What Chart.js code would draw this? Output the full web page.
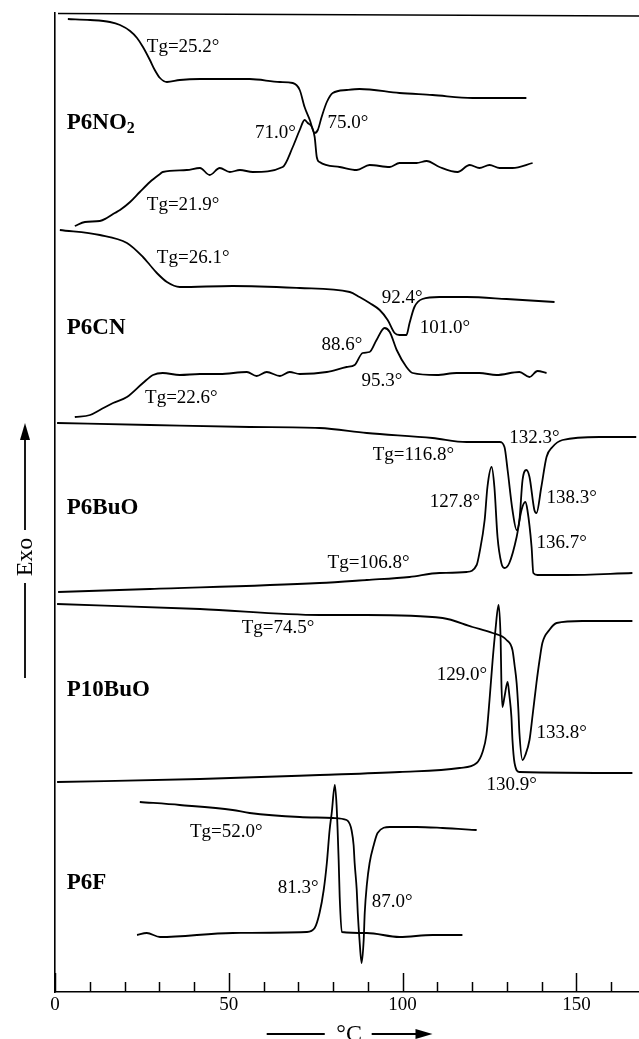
<!DOCTYPE html>
<html>
<head>
<meta charset="utf-8">
<script src="https://cdn.jsdelivr.net/npm/chart.js@4.4.0/dist/chart.umd.min.js"></script>
<style>
html,body{margin:0;padding:0;background:#fff;}
#wrap{width:639px;height:1039px;position:relative;}
</style>
</head>
<body>
<div id="wrap"><canvas id="c" width="639" height="1039"></canvas></div>
<script>
// ---- axis ticks ----
const xTickValues = [0, 50, 100, 150];
const xMinorTickValues = [0, 10, 20, 30, 40, 50, 60, 70, 80, 90, 100, 110, 120, 130, 140, 150, 160];

// ---- curves: temperature (°C) and stacked DSC signal (arb. units, Exo up) ----
const p6no2HeatT = [3.7, 10.1, 15.8, 18.7, 21.6, 23.6, 25.3, 27.3, 28.7, 30.2, 32.2, 35.9, 41.7, 56.0, 64.7, 68.4, 70.4, 71.8, 73.3, 74.7, 75.6, 76.7, 78.2, 79.9, 83.9, 87.6, 99.1, 108.6, 120.1, 135.6];
const p6no2HeatQ = [97.3, 97.2, 97.0, 96.7, 96.1, 95.4, 94.5, 93.2, 92.2, 91.4, 91.0, 91.2, 91.3, 91.3, 91.0, 90.9, 90.2, 88.5, 87.2, 85.9, 86.2, 87.5, 89.0, 89.9, 90.2, 90.3, 89.9, 89.7, 89.4, 89.4];
const p6no2CoolT = [5.7, 8.6, 12.9, 14.9, 17.2, 18.7, 21.6, 24.4, 27.3, 30.2, 31.0, 37.9, 41.7, 44.5, 47.4, 50.3, 53.2, 56.9, 65.5, 68.4, 70.4, 71.8, 72.7, 73.9, 74.7, 75.3, 76.1, 81.9, 86.8, 90.5, 96.3, 99.1, 104.0, 106.9, 110.6, 115.8, 119.3, 122.1, 125.0, 127.9, 131.6, 137.4];
const p6no2CoolQ = [76.6, 77.0, 77.1, 77.4, 77.9, 78.2, 79.0, 80.0, 81.0, 81.8, 82.0, 82.2, 82.4, 81.7, 82.4, 82.0, 82.2, 82.0, 82.5, 84.5, 86.2, 87.2, 86.9, 86.5, 85.5, 83.5, 83.0, 82.5, 82.2, 82.7, 82.5, 82.9, 82.9, 83.1, 82.5, 82.0, 82.7, 82.4, 82.7, 82.4, 82.4, 82.9];

const p6cnHeatT = [1.4, 12.9, 20.7, 25.3, 27.3, 29.3, 32.2, 35.9, 51.1, 70.4, 84.8, 87.6, 90.5, 93.4, 95.7, 97.7, 99.1, 101.1, 102.0, 103.4, 105.7, 110.6, 118.4, 129.9, 143.7];
const p6cnHeatQ = [76.2, 75.7, 74.9, 73.5, 72.7, 71.9, 71.0, 70.5, 70.6, 70.4, 70.0, 69.5, 68.9, 68.2, 67.2, 65.9, 65.7, 65.7, 66.9, 68.5, 69.3, 69.5, 69.5, 69.3, 69.0];
const p6cnCoolT = [5.7, 10.1, 12.9, 16.7, 20.7, 25.3, 28.2, 31.0, 35.9, 41.7, 47.4, 55.2, 58.0, 60.9, 64.7, 67.5, 70.4, 78.2, 83.9, 86.2, 88.5, 90.5, 92.5, 94.8, 96.3, 98.3, 101.1, 102.9, 109.8, 115.5, 122.1, 127.0, 133.6, 136.5, 138.8, 141.4];
const p6cnCoolQ = [57.5, 57.7, 58.2, 58.9, 59.5, 60.9, 61.7, 61.9, 61.7, 61.8, 61.8, 62.0, 61.6, 62.0, 61.6, 62.0, 61.8, 62.0, 62.5, 62.7, 63.9, 64.0, 65.2, 66.4, 66.0, 64.2, 62.5, 61.9, 61.7, 61.9, 61.9, 61.7, 62.0, 61.5, 62.1, 61.9];

const p6buoHeatT = [0.6, 27.3, 56.0, 76.1, 89.7, 108.6, 118.4, 127.9, 129.3, 130.2, 131.6, 132.8, 133.6, 134.5, 135.6, 136.5, 137.9, 138.5, 139.9, 141.4, 143.1, 146.0, 156.6, 167.2];
const p6buoHeatQ = [56.9, 56.7, 56.5, 56.4, 55.9, 55.4, 55.0, 55.0, 54.5, 52.2, 48.2, 46.2, 47.2, 51.2, 52.2, 51.5, 48.2, 47.9, 50.5, 53.5, 54.5, 55.2, 55.5, 55.5];
const p6buoCoolT = [0.9, 27.3, 76.1, 89.7, 102.0, 110.6, 118.4, 121.3, 122.1, 123.6, 124.4, 125.6, 126.4, 127.3, 128.4, 129.3, 130.7, 132.8, 134.2, 135.3, 135.9, 137.1, 137.6, 138.8, 147.1, 166.1];
const p6buoCoolQ = [40.0, 40.3, 40.9, 41.2, 41.5, 41.9, 42.0, 42.7, 43.9, 47.2, 50.5, 52.5, 50.5, 45.5, 42.9, 42.4, 42.9, 45.5, 48.2, 49.0, 48.2, 44.5, 41.9, 41.7, 41.7, 41.9];

const p10buoHeatT = [0.6, 41.7, 76.1, 89.7, 111.5, 120.1, 125.9, 129.9, 131.6, 132.2, 132.8, 133.3, 133.6, 134.5, 135.3, 136.5, 137.4, 138.5, 139.4, 140.2, 142.2, 144.3, 151.7, 166.1];
const p10buoHeatQ = [38.8, 38.3, 37.7, 37.7, 37.4, 36.5, 35.9, 35.2, 34.2, 32.7, 30.9, 28.2, 25.9, 23.2, 23.7, 25.2, 27.7, 30.9, 33.2, 34.9, 36.2, 36.9, 37.1, 37.1];
const p10buoCoolT = [0.6, 41.7, 76.1, 99.1, 116.4, 121.3, 123.0, 124.1, 125.0, 125.9, 126.7, 127.6, 128.2, 128.4, 128.7, 129.3, 130.2, 130.7, 131.3, 131.6, 132.2, 133.6, 166.1];
const p10buoCoolQ = [21.0, 21.3, 21.7, 22.0, 22.4, 22.9, 24.0, 25.7, 29.2, 33.2, 36.2, 38.7, 35.2, 31.2, 28.5, 29.5, 31.0, 29.7, 27.5, 25.2, 22.9, 22.0, 21.9];

const p6fHeatT = [24.4, 35.9, 51.1, 56.0, 70.4, 79.9, 83.9, 84.8, 85.3, 85.9, 86.2, 86.8, 87.1, 87.6, 88.2, 88.8, 89.1, 89.7, 90.5, 91.7, 92.8, 96.3, 104.0, 111.5, 121.3];
const p6fHeatQ = [19.0, 18.7, 18.2, 17.9, 17.5, 17.4, 17.2, 16.8, 16.2, 14.7, 12.9, 10.2, 7.9, 5.2, 2.9, 5.2, 7.9, 10.7, 12.9, 14.7, 15.9, 16.5, 16.5, 16.4, 16.2];
const p6fCoolT = [23.6, 26.4, 30.2, 51.1, 72.4, 74.7, 76.1, 77.3, 78.2, 79.0, 79.6, 80.5, 81.0, 81.3, 81.6, 81.9, 82.5, 89.7, 99.1, 108.6, 117.2];
const p6fCoolQ = [5.7, 5.9, 5.5, 5.9, 6.0, 6.4, 7.9, 10.2, 12.9, 16.2, 17.9, 20.7, 18.7, 16.2, 13.2, 9.5, 6.0, 5.9, 5.5, 5.7, 5.7];

// ---- sample names and their anchor (°C, signal) ----
const sampleNames = ["P6NO", "P6CN", "P6BuO", "P10BuO", "P6F"];
const sampleSubscripts = ["2", "", "", "", ""];
const sampleNameT = [3.4, 3.4, 3.4, 3.4, 3.4];
const sampleNameQ = [86.9, 66.4, 48.4, 30.2, 10.9];

// ---- peak / Tg annotations and their anchor (°C, signal) ----
const annotationTexts = ["Tg=25.2°", "71.0°", "75.0°", "Tg=21.9°", "Tg=26.1°", "92.4°", "101.0°", "88.6°", "95.3°", "Tg=22.6°",
  "Tg=116.8°", "132.3°", "127.8°", "138.3°", "136.7°", "Tg=106.8°", "Tg=74.5°", "129.0°", "133.8°", "130.9°",
  "Tg=52.0°", "81.3°", "87.0°"];
const annotationT = [26.4, 57.5, 78.4, 26.4, 29.3, 94.0, 104.9, 76.7, 88.2, 25.9,
  91.4, 130.7, 107.8, 141.4, 138.5, 78.4, 53.7, 109.8, 138.5, 124.1,
  38.8, 64.1, 91.1];
const annotationQ = [94.5, 85.9, 86.9, 78.7, 73.4, 69.4, 66.4, 64.7, 61.1, 59.4,
  53.7, 55.4, 49.0, 49.4, 44.9, 42.9, 36.4, 31.7, 25.9, 20.7,
  16.0, 10.4, 9.0];

const curves = [
  [p6no2HeatT, p6no2HeatQ], [p6no2CoolT, p6no2CoolQ],
  [p6cnHeatT, p6cnHeatQ], [p6cnCoolT, p6cnCoolQ],
  [p6buoHeatT, p6buoHeatQ], [p6buoCoolT, p6buoCoolQ],
  [p10buoHeatT, p10buoHeatQ], [p10buoCoolT, p10buoCoolQ],
  [p6fHeatT, p6fHeatQ], [p6fCoolT, p6fCoolQ]
];

const SERIF = '"Liberation Serif", "Times New Roman", serif';

const datasets = curves.map(([t, q]) => ({
  data: t.map((v, i) => ({ x: v, y: q[i] })),
  borderColor: '#000',
  borderWidth: 1.8,
  pointRadius: 0,
  fill: false,
  cubicInterpolationMode: 'monotone'
}));

const deco = {
  id: 'deco',
  afterDraw(chart) {
    const { ctx, chartArea: a, scales: { x, y } } = chart;
    ctx.save();
    ctx.strokeStyle = '#000';
    ctx.fillStyle = '#000';
    ctx.lineCap = 'butt';

    // top frame line
    ctx.lineWidth = 1.6;
    ctx.beginPath();
    ctx.moveTo(a.left + 3, a.top + 0.5);
    ctx.lineTo(a.right, a.top + 3);
    ctx.stroke();

    // inward tick marks on the temperature axis
    ctx.lineWidth = 1.5;
    xMinorTickValues.forEach(v => {
      const px = Math.round(x.getPixelForValue(v)) + 0.5;
      const len = v % 50 === 0 ? 19 : 10;
      ctx.beginPath();
      ctx.moveTo(px, a.bottom);
      ctx.lineTo(px, a.bottom - len);
      ctx.stroke();
    });

    // annotations
    ctx.font = '19px ' + SERIF;
    ctx.textAlign = 'left';
    ctx.textBaseline = 'middle';
    annotationTexts.forEach((t, i) => {
      ctx.fillText(t, x.getPixelForValue(annotationT[i]), y.getPixelForValue(annotationQ[i]));
    });

    // sample names
    sampleNames.forEach((n, i) => {
      const px = x.getPixelForValue(sampleNameT[i]);
      const py = y.getPixelForValue(sampleNameQ[i]);
      ctx.font = 'bold 23px ' + SERIF;
      ctx.fillText(n, px, py);
      if (sampleSubscripts[i]) {
        const w = ctx.measureText(n).width;
        ctx.font = 'bold 16px ' + SERIF;
        ctx.fillText(sampleSubscripts[i], px + w, py + 6);
      }
    });

    // vertical "Exo" axis label with arrow
    const ex = 25;
    const tipY = y.getPixelForValue(56.9);
    const upEnd = y.getPixelForValue(46.2);
    const txtY = y.getPixelForValue(43.5);
    const lowStart = y.getPixelForValue(40.9);
    const lowEnd = y.getPixelForValue(31.4);
    ctx.lineWidth = 1.8;
    ctx.beginPath();
    ctx.moveTo(ex, tipY + 12);
    ctx.lineTo(ex, upEnd);
    ctx.moveTo(ex, lowStart);
    ctx.lineTo(ex, lowEnd);
    ctx.stroke();
    ctx.beginPath();
    ctx.moveTo(ex, tipY);
    ctx.lineTo(ex - 5, tipY + 17);
    ctx.lineTo(ex + 5, tipY + 17);
    ctx.closePath();
    ctx.fill();
    ctx.save();
    ctx.translate(ex + 1, txtY);
    ctx.rotate(-Math.PI / 2);
    ctx.font = '24px ' + SERIF;
    ctx.textAlign = 'center';
    ctx.textBaseline = 'middle';
    ctx.fillText('Exo', 0, 0);
    ctx.restore();

    // horizontal "°C" axis title with arrow
    const ly = 1034;
    ctx.beginPath();
    ctx.moveTo(x.getPixelForValue(60.9), ly);
    ctx.lineTo(x.getPixelForValue(77.6), ly);
    ctx.moveTo(x.getPixelForValue(91.1), ly);
    ctx.lineTo(x.getPixelForValue(105.0), ly);
    ctx.stroke();
    const ax = x.getPixelForValue(108.6);
    ctx.beginPath();
    ctx.moveTo(ax, ly);
    ctx.lineTo(ax - 17, ly - 5);
    ctx.lineTo(ax - 17, ly + 5);
    ctx.closePath();
    ctx.fill();
    ctx.font = '24px ' + SERIF;
    ctx.textAlign = 'center';
    ctx.textBaseline = 'alphabetic';
    ctx.fillText('°C', x.getPixelForValue(84.6), 1041);

    ctx.restore();
  }
};

new Chart(document.getElementById('c'), {
  type: 'line',
  data: { datasets },
  options: {
    responsive: false,
    animation: false,
    devicePixelRatio: 1,
    layout: { padding: { left: 0, right: 0, top: 13, bottom: 0 } },
    plugins: { legend: { display: false }, tooltip: { enabled: false } },
    scales: {
      x: {
        type: 'linear',
        min: 0,
        max: 168,
        afterBuildTicks: s => { s.ticks = xTickValues.map(v => ({ value: v })); },
        afterFit: s => { s.height = 47; },
        ticks: { color: '#000', font: { family: SERIF, size: 19 }, padding: 2, maxRotation: 0, autoSkip: false },
        grid: { display: false, drawTicks: false },
        border: { display: true, color: '#000', width: 1.6 }
      },
      y: {
        type: 'linear',
        min: 0,
        max: 97.9,
        afterFit: s => { s.width = 55; },
        ticks: { display: false },
        grid: { display: false, drawTicks: false },
        border: { display: true, color: '#000', width: 1.6 }
      }
    }
  },
  plugins: [deco]
});
</script>
</body>
</html>
